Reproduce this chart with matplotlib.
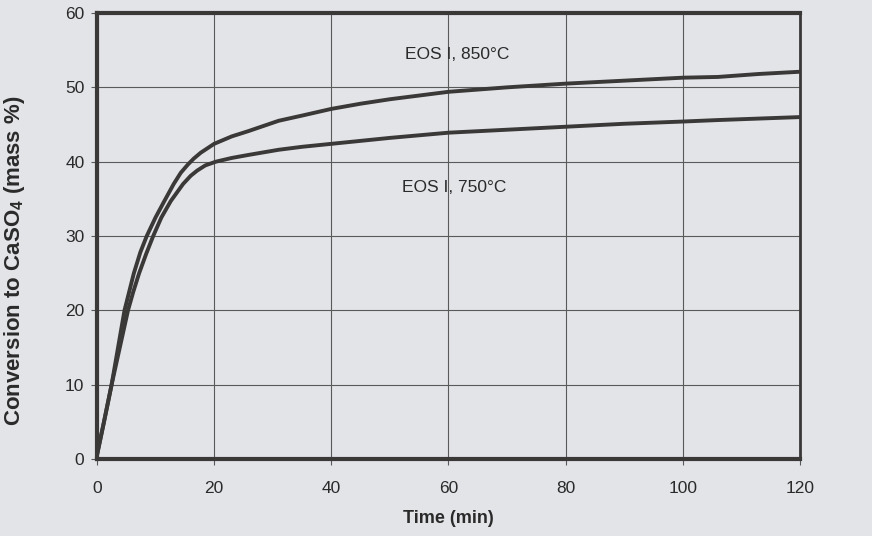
import numpy as np
import matplotlib
matplotlib.use('Agg')
import matplotlib.pyplot as plt

plt.rcParams['font.family'] = ['Liberation Sans', 'DejaVu Sans']
plt.rcParams['mathtext.fontset'] = 'custom'
plt.rcParams['mathtext.rm'] = 'Liberation Sans'
plt.rcParams['mathtext.bf'] = 'Liberation Sans:bold'

# conversion curves (time in min, conversion in mass %)
t_850 = [0, 1.2, 2.5, 3.6, 4.7, 5.5, 6.3, 7.4, 8.5, 10, 11.5, 13.1, 14.3, 15.5, 16.5, 17.7, 20, 23, 25.8, 31, 35, 40,
         45, 50, 55, 60, 70, 80, 90, 100, 106, 113, 120]
c_850 = [0.5, 5, 10, 15, 20, 22.5, 25, 27.8, 30, 32.5, 34.7, 37.0, 38.5, 39.6, 40.4, 41.2, 42.4, 43.4, 44.1, 45.5, 46.2, 47.1,
         47.8, 48.4, 48.9, 49.4, 50.0, 50.5, 50.9, 51.3, 51.4, 51.8, 52.1]

t_750 = [0, 1.2, 2.5, 3.9, 5.3, 6.2, 7.2, 8.4, 9.6, 11, 12.6, 14.7, 16, 17.1, 18.5, 20.3, 23, 25.8, 31, 35, 40,
         50, 60, 70, 80, 90, 100, 106, 113, 120]
c_750 = [0.5, 5, 10, 15, 20, 22.5, 25, 27.6, 30, 32.5, 34.7, 37.0, 38.1, 38.8, 39.5, 40.0, 40.5, 40.9, 41.6, 42.0, 42.4,
         43.2, 43.9, 44.3, 44.7, 45.1, 45.4, 45.6, 45.8, 46.0]

labels = ['EOS I, 850°C', 'EOS I, 750°C']
x_ticks = [0, 20, 40, 60, 80, 100, 120]
y_ticks = [0, 10, 20, 30, 40, 50, 60]

bg = '#e3e4e8'
ink = '#3b3838'
txt = '#2a2a2a'

fig = plt.figure(figsize=(8.72, 5.36), dpi=100, facecolor=bg)
ax = fig.add_axes([0.1112, 0.1437, 0.8062, 0.832])
ax.set_facecolor(bg)

ax.plot(t_850, c_850, color=ink, lw=2.8, solid_joinstyle='round')
ax.plot(t_750, c_750, color=ink, lw=2.8, solid_joinstyle='round')

ax.text(61.5, 54.4, labels[0], fontsize=12.5, ha='center', va='center', color=txt)
ax.text(61.0, 36.5, labels[1], fontsize=12.5, ha='center', va='center', color=txt)

ax.set_xlim(0, 120)
ax.set_ylim(0, 60)
ax.set_xticks(x_ticks)
ax.set_yticks(y_ticks)
ax.grid(True, color='#5a5a5a', lw=0.8)
ax.tick_params(direction='out', length=4, width=0.8, color='#5a5a5a',
               labelsize=12.5, labelcolor=txt)
ax.tick_params(axis='x', pad=12)
ax.tick_params(axis='y', pad=5)

for side in ['left', 'bottom', 'top']:
  ax.spines[side].set_linewidth(3)
  ax.spines[side].set_color(ink)
ax.spines['right'].set_linewidth(2)
ax.spines['right'].set_color(ink)

ax.set_xlabel('Time (min)', fontsize=13, fontweight='bold', color=txt, labelpad=10)
ax.set_ylabel(r'Conversion to CaSO$_\mathbf{4}$ (mass %)', fontsize=16, fontweight='bold', color=txt)
ax.yaxis.set_label_coords(-0.099, 0.444)

fig.savefig('out.png', dpi=100, facecolor=bg)
